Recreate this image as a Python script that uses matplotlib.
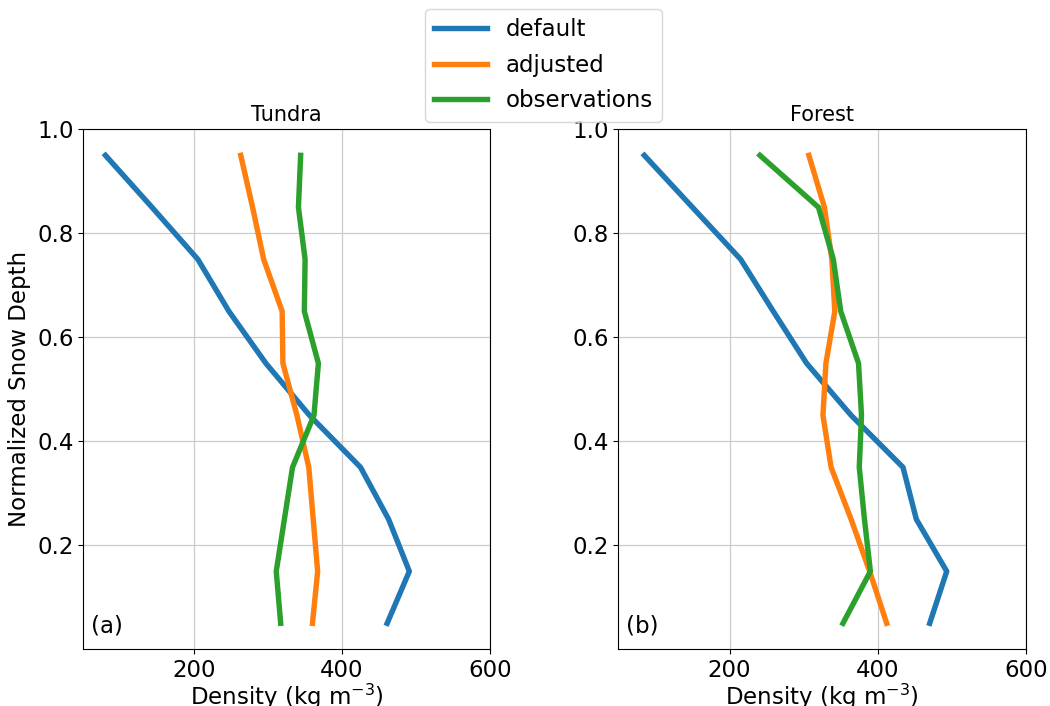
import numpy as np
import matplotlib.pyplot as plt

depth = [0.95, 0.85, 0.75, 0.65, 0.55, 0.45, 0.35, 0.25, 0.15, 0.05]

tundra_default = [80, 143, 205, 247, 297, 356, 425, 463, 491, 461]
tundra_adjusted = [263, 279, 294, 319, 320, 339, 355, 361, 367, 360]
tundra_obs = [344, 341, 350, 349, 368, 362, 333, 322, 311, 317]

forest_default = [85, 150, 215, 259, 304, 364, 434, 452, 493, 470]
forest_adjusted = [307, 328, 338, 342, 330, 326, 337, 364, 389, 412]
forest_obs = [241, 320, 340, 350, 374, 378, 375, 382, 390, 353]

panels = [('Tundra', '(a)', tundra_default, tundra_adjusted, tundra_obs),
          ('Forest', '(b)', forest_default, forest_adjusted, forest_obs)]
labels = ['default', 'adjusted', 'observations']
colors = ['#1f77b4', '#ff7f0e', '#2ca02c']

fig = plt.figure(figsize=(10.5, 7.06), dpi=100)
ax1 = fig.add_axes([0.0793, 0.0803, 0.3873, 0.7365])
ax2 = fig.add_axes([0.5889, 0.0803, 0.3883, 0.7365])

for ax, (name, tag, d, a, o) in zip([ax1, ax2], panels):
    for vals, lab, c in zip([d, a, o], labels, colors):
        ax.plot(vals, depth, color=c, lw=3.9, label=lab)
    ax.set_xlim(50, 600)
    ax.set_ylim(0, 1.0)
    ax.set_xticks([200, 400, 600])
    ax.set_yticks([0.2, 0.4, 0.6, 0.8, 1.0])
    ax.grid(True, color='#cccccc', lw=0.9)
    ax.tick_params(labelsize=16.5)
    ax.set_title(name, fontsize=15)
    ax.set_xlabel('Density (kg m$^{-3}$)', fontsize=16.5, labelpad=0)
    ax.text(0.02, 0.045, tag, transform=ax.transAxes, fontsize=16.5, va='center')

ax1.set_ylabel('Normalized Snow Depth', fontsize=16.5)

handles, labs = ax1.get_legend_handles_labels()
fig.legend(handles, labs, loc='upper center', bbox_to_anchor=(543.5 / 1050, 1 - 9 / 706),
           fontsize=16.5, handlelength=2.3, borderaxespad=0, labelspacing=0.55)

plt.savefig('out.png', dpi=100)
